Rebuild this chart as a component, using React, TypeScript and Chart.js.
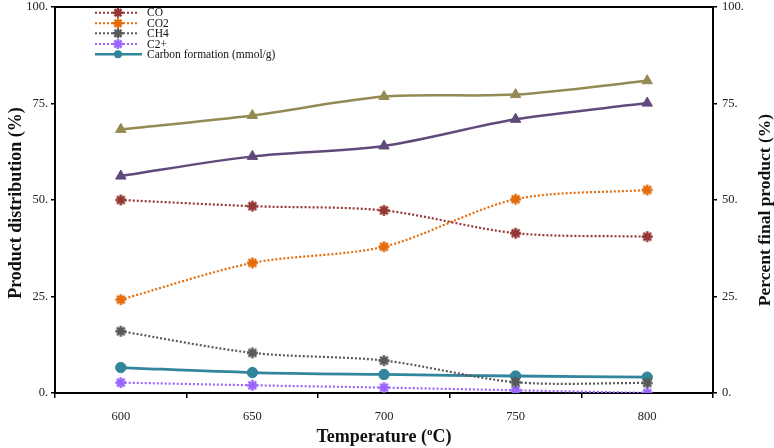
import React, { useEffect, useRef } from "react";
import { Chart, registerables } from "chart.js";

Chart.register(...registerables);

const categories = ["600", "650", "700", "750", "800"];
const coValues = [50.0, 48.4, 47.3, 41.4, 40.5];
const co2Values = [24.2, 33.7, 37.9, 50.2, 52.6];
const ch4Values = [16.0, 10.4, 8.4, 2.8, 2.6];
const c2Values = [2.7, 2.0, 1.4, 0.7, 0.0];
const carbonValues = [6.6, 5.3, 4.8, 4.4, 4.1];
const oliveValues = [68.3, 71.9, 76.8, 77.3, 80.9];
const purpleValues = [56.2, 61.3, 64.0, 70.9, 75.1];
const yTicks = [0, 25, 50, 75, 100];

const SERIF = '"Liberation Serif", "Times New Roman", serif';

const legendItems = [
  { label: "CO", color: "#953735", style: "star", dashed: true },
  { label: "CO2", color: "#E46C0A", style: "star", dashed: true },
  { label: "CH4", color: "#595959", style: "star", dashed: true },
  { label: "C2+", color: "#9A66FF", style: "star", dashed: true },
  { label: "Carbon formation (mmol/g)", color: "#31859C", style: "circle", dashed: false },
];

function drawMarker(ctx: CanvasRenderingContext2D, style: string, x: number, y: number, r: number, color: string) {
  ctx.save();
  ctx.fillStyle = color;
  ctx.strokeStyle = color;
  ctx.setLineDash([]);
  if (style === "circle") {
    ctx.beginPath();
    ctx.arc(x, y, r, 0, Math.PI * 2);
    ctx.fill();
  } else if (style === "star") {
    ctx.lineWidth = 2.4;
    ctx.lineCap = "butt";
    ctx.beginPath();
    for (let i = 0; i < 4; i++) {
      const a = (i * Math.PI) / 4;
      ctx.moveTo(x - Math.cos(a) * r, y - Math.sin(a) * r);
      ctx.lineTo(x + Math.cos(a) * r, y + Math.sin(a) * r);
    }
    ctx.stroke();
    ctx.beginPath();
    ctx.arc(x, y, r * 0.62, 0, Math.PI * 2);
    ctx.fill();
  }
  ctx.restore();
}

function makeStarImage(color: string, r: number) {
  const size = Math.ceil(r * 2 + 4);
  const c = document.createElement("canvas");
  c.width = size;
  c.height = size;
  const cx = c.getContext("2d");
  if (cx) drawMarker(cx, "star", size / 2, size / 2, r, color);
  return c;
}

const framePlugin = {
  id: "framePlugin",
  afterDraw(chart: any) {
    const ctx: CanvasRenderingContext2D = chart.ctx;
    const a = chart.chartArea;
    ctx.save();
    // top border
    ctx.strokeStyle = "#000";
    ctx.lineWidth = 2;
    ctx.beginPath();
    ctx.moveTo(a.left - 1, a.top);
    ctx.lineTo(a.right + 1, a.top);
    ctx.stroke();

    // legend
    const ys = [12.7, 23.3, 33.3, 44, 54.3];
    legendItems.forEach((it, i) => {
      const y = ys[i];
      ctx.save();
      ctx.strokeStyle = it.color;
      ctx.lineWidth = it.dashed ? 2 : 2.5;
      ctx.setLineDash(it.dashed ? [2, 2] : []);
      ctx.beginPath();
      ctx.moveTo(95, y);
      ctx.lineTo(it.dashed ? 139 : 142, y);
      ctx.stroke();
      ctx.restore();
      drawMarker(ctx, it.style, 118, y, it.style === "circle" ? 4 : 5, it.color);
      ctx.fillStyle = "#111";
      ctx.font = `11.5px ${SERIF}`;
      ctx.textAlign = "left";
      ctx.textBaseline = "middle";
      ctx.fillText(it.label, 147, y + 0.5);
    });

    // left title
    ctx.fillStyle = "#111";
    ctx.font = `bold 18px ${SERIF}`;
    ctx.textAlign = "center";
    ctx.textBaseline = "middle";
    ctx.save();
    ctx.translate(16, 203);
    ctx.rotate(-Math.PI / 2);
    ctx.fillText("Product distribution (%)", 0, 0);
    ctx.restore();
    // right title
    ctx.font = `bold 17.5px ${SERIF}`;
    ctx.save();
    ctx.translate(765, 210);
    ctx.rotate(-Math.PI / 2);
    ctx.fillText("Percent final product (%)", 0, 0);
    ctx.restore();

    // x title with superscript o
    const y0 = 436;
    ctx.textBaseline = "alphabetic";
    ctx.textAlign = "left";
    const part1 = "Temperature (";
    const sup = "o";
    const part2 = "C)";
    ctx.font = `bold 18px ${SERIF}`;
    const w1 = ctx.measureText(part1).width;
    const w3 = ctx.measureText(part2).width;
    ctx.font = `bold 11px ${SERIF}`;
    const w2 = ctx.measureText(sup).width;
    const total = w1 + w2 + w3;
    let x = 384 - total / 2;
    ctx.font = `bold 18px ${SERIF}`;
    ctx.fillText(part1, x, y0 + 6);
    x += w1;
    ctx.font = `bold 11px ${SERIF}`;
    ctx.fillText(sup, x, y0 - 1);
    x += w2;
    ctx.font = `bold 18px ${SERIF}`;
    ctx.fillText(part2, x, y0 + 6);
    ctx.restore();
  },
};

function dotted(label: string, data: number[], color: string) {
  return {
    label,
    data,
    borderColor: color,
    backgroundColor: color,
    borderWidth: 2.2,
    borderDash: [2, 2],
    tension: 0.3,
    pointStyle: makeStarImage(color, 5.5),
    pointRadius: 6,
    pointBorderWidth: 0,
    pointBorderColor: color,
    pointBackgroundColor: color,
    yAxisID: "y",
  };
}

function solid(label: string, data: number[], color: string, style: string, yAxisID: string) {
  return {
    label,
    data,
    borderColor: color,
    backgroundColor: color,
    borderWidth: style === "circle" ? 2.8 : 2.5,
    tension: 0.3,
    pointStyle: style,
    pointRadius: style === "circle" ? 5.2 : 6,
    pointBorderWidth: 1,
    pointBorderColor: color,
    pointBackgroundColor: color,
    yAxisID,
  };
}

export default function App() {
  const ref = useRef<HTMLCanvasElement>(null);
  useEffect(() => {
    if (!ref.current) return;
    const tickFont = { family: SERIF, size: 12.5 };
    const zeroPad = (scale: any) => {
      scale.paddingTop = 0;
      scale.paddingBottom = 0;
    };
    const chart = new Chart(ref.current, {
      type: "line",
      data: {
        labels: categories,
        datasets: [
          solid("Olive", oliveValues, "#948A54", "triangle", "y2"),
          solid("Purple", purpleValues, "#604A7B", "triangle", "y2"),
          dotted("CO", coValues, "#953735"),
          dotted("CO2", co2Values, "#E46C0A"),
          dotted("CH4", ch4Values, "#595959"),
          solid("Carbon formation (mmol/g)", carbonValues, "#31859C", "circle", "y"),
          dotted("C2+", c2Values, "#9A66FF"),
        ] as any,
      },
      options: {
        animation: false,
        responsive: false,
        maintainAspectRatio: false,
        layout: { padding: { top: 0, left: 0, right: 0, bottom: 0 } },
        plugins: { legend: { display: false }, tooltip: { enabled: false } },
        scales: {
          x: {
            type: "category",
            offset: true,
            grid: {
              offset: true,
              drawOnChartArea: false,
              drawTicks: true,
              tickLength: 5,
              color: "#000",
              lineWidth: 1.5,
            },
            border: { color: "#000", width: 2 },
            ticks: { font: tickFont, color: "#222", padding: 11, maxRotation: 0 },
            afterFit(scale: any) {
              scale.height = 55;
              scale.paddingLeft = 0;
              scale.paddingRight = 0;
            },
          },
          y: {
            position: "left",
            min: 0,
            max: 100,
            afterBuildTicks(scale: any) {
              scale.ticks = yTicks.map((v) => ({ value: v }));
            },
            grid: { drawOnChartArea: false, drawTicks: true, tickLength: 4, color: "#000", lineWidth: 1.5 },
            border: { color: "#000", width: 2 },
            ticks: { font: tickFont, color: "#222", padding: 3, callback: (v: any) => `${v}.` },
            afterFit(scale: any) {
              scale.width = 55;
              zeroPad(scale);
            },
          },
          y2: {
            position: "right",
            min: 0,
            max: 100,
            afterBuildTicks(scale: any) {
              scale.ticks = yTicks.map((v) => ({ value: v }));
            },
            grid: { drawOnChartArea: false, drawTicks: true, tickLength: 4, color: "#000", lineWidth: 1.5 },
            border: { color: "#000", width: 2 },
            ticks: { font: tickFont, color: "#222", padding: 5, callback: (v: any) => `${v}.` },
            afterFit(scale: any) {
              scale.width = 61;
              zeroPad(scale);
            },
          },
        },
      } as any,
      plugins: [framePlugin],
    });
    return () => chart.destroy();
  }, []);
  return (
    <div style={{ position: "fixed", left: 0, top: 0, width: 774, height: 448, background: "#fff" }}>
      <canvas ref={ref} width={774} height={448} style={{ display: "block" }} />
    </div>
  );
}
